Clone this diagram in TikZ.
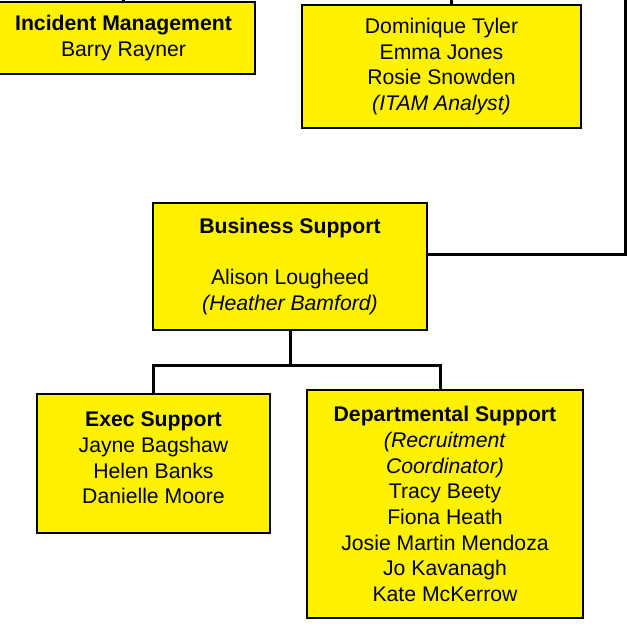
\documentclass[tikz,border=0pt]{standalone}
\usepackage{fontspec}
\setmainfont{Liberation Sans}
\begin{document}
\begin{tikzpicture}[x=1pt,y=-1pt,
  box/.style={draw=black,line width=1.5pt,fill=yellow,align=center,inner sep=0pt,
    font=\fontsize{21.2}{25.7}\selectfont},
  link/.style={line width=3pt}]
\useasboundingbox (0,0) rectangle (627,625);
% boxes
\node[box,minimum width=263pt,minimum height=72pt](inc) at (123.5,38)
  {\textbf{Incident Management}\\Barry Rayner};
\node[box,minimum width=279pt,minimum height=123pt](team) at (441.5,66.5)
  {Dominique Tyler\\Emma Jones\\Rosie Snowden\\\textit{(ITAM Analyst)}};
\node[box,minimum width=274pt,minimum height=127pt](bus) at (290,266.5)
  {\textbf{Business Support}\\[25.7pt]Alison Lougheed\\\textit{(Heather Bamford)}};
\node[box,minimum width=233pt,minimum height=139pt](exec) at (153.5,463.5)
  {\textbf{Exec Support}\\Jayne Bagshaw\\Helen Banks\\Danielle Moore\\[-14.7pt]};
\node[box,minimum width=276pt,minimum height=228pt](dept) at (445,504)
  {\textbf{Departmental Support}\\\textit{(Recruitment}\\\textit{Coordinator)}\\Tracy Beety\\
   Fiona Heath\\Josie Martin Mendoza\\Jo Kavanagh\\Kate McKerrow};
% links
\coordinate(up) at (625,-5);
\draw[link](inc.north)--++(0,-6);
\draw[link]([xshift=9.5pt]team.north)--++(0,-8);
\draw[link]([yshift=12.5pt]bus.east)-|(up);
\draw[link](bus.south)--++(0,35)coordinate(rail);
\draw[link](rail)-|(exec.north);
\draw[link](rail)-|([xshift=-5pt]dept.north);
\end{tikzpicture}
\end{document}
